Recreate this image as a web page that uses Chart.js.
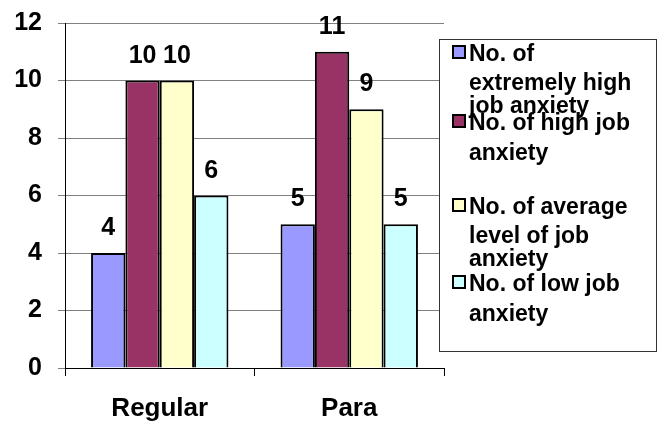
<!DOCTYPE html>
<html>
<head>
<meta charset="utf-8">
<script src="https://cdn.jsdelivr.net/npm/chart.js@4"></script>
<style>
  html, body { margin: 0; padding: 0; background: #fff; }
  #wrap { width: 662px; height: 421px; position: relative; }
</style>
</head>
<body>
<div id="wrap"><canvas id="chart"></canvas></div>
<script>
/* ── data ── */
const categories    = ['Regular', 'Para'];
const seriesNames   = [
  'No. of extremely high job anxiety',
  'No. of high job anxiety',
  'No. of average level of job anxiety',
  'No. of low job anxiety',
];
const extremelyHigh = [4, 5];
const high          = [10, 11];
const average       = [10, 9];
const low           = [6, 5];
const yMin = 0, yMax = 12, yStep = 2;

const colors = ['#9999FF', '#993366', '#FFFFCC', '#CCFFFF'];
const FONT = '"Liberation Sans", Arial, sans-serif';

/* ── value labels above bars ── */
const valueLabels = {
  id: 'valueLabels',
  afterDatasetsDraw(chart) {
    const ctx = chart.ctx;
    ctx.save();
    ctx.font = 'bold 25px ' + FONT;
    ctx.fillStyle = '#000';
    ctx.textAlign = 'center';
    ctx.textBaseline = 'alphabetic';
    chart.data.datasets.forEach((ds, i) => {
      chart.getDatasetMeta(i).data.forEach((bar, j) => {
        ctx.fillText(ds.data[j], bar.x, bar.y - 18);
      });
    });
    ctx.restore();
  }
};

/* ── boxed legend on the right (Excel style, wrapped text) ── */
const boxLegend = {
  id: 'boxLegend',
  afterDraw(chart) {
    const ctx = chart.ctx;
    const box = { left: 439, top: 39, right: 656, bottom: 351 };
    const firstBase = [61, 130, 214, 291];
    const steps = { 2: [0, 30], 3: [0, 29, 52] };
    ctx.save();
    ctx.fillStyle = '#fff';
    ctx.fillRect(box.left, box.top, box.right - box.left, box.bottom - box.top);
    ctx.strokeStyle = '#333';
    ctx.lineWidth = 1;
    ctx.strokeRect(box.left + 0.5, box.top + 0.5, box.right - box.left, box.bottom - box.top);

    ctx.font = 'bold 23px ' + FONT;
    ctx.textAlign = 'left';
    ctx.textBaseline = 'alphabetic';
    chart.data.datasets.forEach((ds, i) => {
      // wrap label
      const words = ds.label.split(' ');
      const lines = [];
      let cur = '';
      words.forEach(w => {
        const t = cur ? cur + ' ' + w : w;
        if (ctx.measureText(t).width > 172 && cur) { lines.push(cur); cur = w; }
        else cur = t;
      });
      lines.push(cur);
      const offs = steps[lines.length] || lines.map((_, k) => k * 28);
      const y0 = firstBase[i];
      // swatch
      ctx.fillStyle = ds.backgroundColor;
      ctx.fillRect(453, y0 - 15, 12, 12);
      ctx.strokeStyle = '#000';
      ctx.lineWidth = 2;
      ctx.strokeRect(453, y0 - 15, 12, 12);
      ctx.fillStyle = '#000';
      lines.forEach((ln, k) => ctx.fillText(ln, 469, y0 + offs[k]));
    });
    ctx.restore();
  }
};

const datasets = [extremelyHigh, high, average, low].map((vals, i) => ({
  label: seriesNames[i],
  data: vals,
  backgroundColor: colors[i],
  borderColor: '#000',
  borderWidth: 2,
  barPercentage: 1,
  categoryPercentage: 0.725,
}));

new Chart(document.getElementById('chart'), {
  type: 'bar',
  data: { labels: categories, datasets },
  plugins: [valueLabels, boxLegend],
  options: {
    responsive: true,
    maintainAspectRatio: false,
    animation: false,
    layout: { padding: { top: 23, right: 218, bottom: 0, left: 0 } },
    plugins: { legend: { display: false }, tooltip: { enabled: false } },
    scales: {
      x: {
        grid: { offset: true, drawOnChartArea: false, drawTicks: true, tickLength: 8, color: '#000' },
        border: { color: '#000' },
        ticks: { color: '#000', padding: 17, font: { family: FONT, size: 26, weight: 'bold' } },
        afterFit: s => { s.height = 53; s.paddingLeft = 0; s.paddingRight = 0; },
      },
      y: {
        min: yMin,
        max: yMax,
        grid: { color: '#808080', tickLength: 7, drawTicks: true },
        border: { color: '#000' },
        ticks: { stepSize: yStep, color: '#000', padding: 16, font: { family: FONT, size: 25, weight: 'bold' } },
        afterFit: s => { s.width = 65; s.paddingTop = 0; s.paddingBottom = 0; },
      },
    },
  },
});
</script>
</body>
</html>
